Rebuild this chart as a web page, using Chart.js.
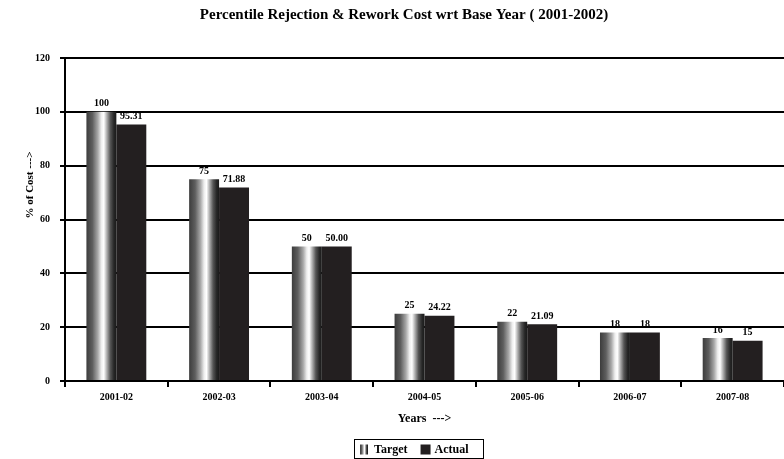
<!DOCTYPE html>
<html>
<head>
<meta charset="utf-8">
<script src="https://cdn.jsdelivr.net/npm/chart.js@4.4.1/dist/chart.umd.min.js"></script>
<style>
  html, body { margin: 0; padding: 0; background: #fff; }
  #wrap { width: 784px; height: 459px; }
</style>
</head>
<body>
<div id="wrap"><canvas id="chart" width="784" height="459"></canvas></div>
<script>
// Financial years on the category axis
const years = ['2001-02', '2002-03', '2003-04', '2004-05', '2005-06', '2006-07', '2007-08'];
// Rejection & rework cost as % of the 2001-02 base
const targetValues = [100, 75, 50, 25, 22, 18, 16];
const actualValues = [95.31, 71.88, 50.00, 24.22, 21.09, 18, 15];
// Decimal places shown in each bar's value label
const targetDecimals = [0, 0, 0, 0, 0, 0, 0];
const actualDecimals = [2, 2, 2, 2, 2, 0, 0];
// Value axis range
const yMin = 0;
const yMax = 120;
const yStep = 20;

const chartTitle = 'Percentile Rejection & Rework Cost wrt Base Year ( 2001-2002)';
const xAxisTitle = 'Years  --->';
const yAxisTitle = '% of Cost --->';

const FONT = "'Liberation Serif', 'Times New Roman', serif";
const CAT_PCT = 0.583;
const ACTUAL_COLOR = '#231f20';

Chart.defaults.font.family = FONT;
Chart.defaults.font.weight = 'bold';
Chart.defaults.color = '#000';

// Shaded "cylinder" fill used for the Target bars
function addCylinderStops(g) {
  g.addColorStop(0.00, '#3c3c3c');
  g.addColorStop(0.20, '#5e5e5e');
  g.addColorStop(0.38, '#a8a8a8');
  g.addColorStop(0.50, '#eeeeee');
  g.addColorStop(0.58, '#ffffff');
  g.addColorStop(0.68, '#b0b0b0');
  g.addColorStop(0.80, '#555555');
  g.addColorStop(0.92, '#262626');
  g.addColorStop(1.00, '#1a1a1a');
  return g;
}

function targetFill(ctx) {
  const chart = ctx.chart;
  const xs = chart.scales.x;
  if (ctx.type !== 'data' || !xs || !xs.width) return '#888';
  const cat = xs.width / years.length;
  const w = cat * CAT_PCT / 2;
  const center = xs.getPixelForValue(ctx.dataIndex);
  const g = chart.ctx.createLinearGradient(center - w, 0, center, 0);
  return addCylinderStops(g);
}

// Value printed above every bar
const valueLabels = {
  id: 'valueLabels',
  afterDatasetsDraw(chart) {
    const c = chart.ctx;
    c.save();
    c.font = 'bold 10px ' + FONT;
    c.fillStyle = '#000';
    c.textAlign = 'center';
    c.textBaseline = 'bottom';
    chart.data.datasets.forEach((ds, di) => {
      chart.getDatasetMeta(di).data.forEach((bar, i) => {
        const dec = ds.decimals ? ds.decimals[i] : 0;
        c.fillText(ds.data[i].toFixed(dec), bar.x, bar.y - 3);
      });
    });
    c.restore();
  }
};

// Rotated value-axis caption
const sideCaption = {
  id: 'sideCaption',
  afterDraw(chart) {
    const c = chart.ctx;
    c.save();
    c.font = 'bold 11px ' + FONT;
    c.fillStyle = '#000';
    c.textAlign = 'center';
    c.textBaseline = 'middle';
    c.translate(30, chart.chartArea.top + 127);
    c.rotate(-Math.PI / 2);
    c.fillText(yAxisTitle, 0, 0);
    c.restore();
  }
};

// Boxed legend under the axis caption
const boxedLegend = {
  id: 'boxedLegend',
  afterDraw(chart) {
    const c = chart.ctx;
    const ds = chart.data.datasets;
    c.save();
    c.font = 'bold 12px ' + FONT;
    const sw = [8, 10];
    const tw = ds.map(d => c.measureText(d.label).width);
    const padL = 6, gapST = 6, gapItems = 13, padR = 14;
    const total = padL + sw[0] + gapST + tw[0] + gapItems + sw[1] + gapST - 2 + tw[1] + padR;
    const cx = (chart.chartArea.left + chart.chartArea.right) / 2 - 6;
    const left = Math.round(cx - total / 2);
    const top = 439, h = 19;
    c.strokeStyle = '#000';
    c.lineWidth = 1;
    c.strokeRect(left + 0.5, top + 0.5, Math.round(total), h);
    const midY = top + h / 2 + 1;
    let x = left + padL;
    // Target swatch
    const g = c.createLinearGradient(x, 0, x + sw[0], 0);
    addCylinderStops(g);
    c.fillStyle = g;
    c.fillRect(x, midY - 5, sw[0], 10);
    x += sw[0] + gapST;
    c.fillStyle = '#000';
    c.textAlign = 'left';
    c.textBaseline = 'middle';
    c.fillText(ds[0].label, x, midY);
    x += tw[0] + gapItems;
    c.fillStyle = ACTUAL_COLOR;
    c.fillRect(x, midY - 5, sw[1], 10);
    x += sw[1] + gapST - 2;
    c.fillStyle = '#000';
    c.fillText(ds[1].label, x, midY);
    c.restore();
  }
};

new Chart(document.getElementById('chart'), {
  type: 'bar',
  data: {
    labels: years,
    datasets: [
      {
        label: 'Target',
        data: targetValues,
        decimals: targetDecimals,
        backgroundColor: targetFill,
        borderWidth: 0,
        categoryPercentage: CAT_PCT,
        barPercentage: 1.0
      },
      {
        label: 'Actual',
        data: actualValues,
        decimals: actualDecimals,
        backgroundColor: ACTUAL_COLOR,
        borderWidth: 0,
        categoryPercentage: CAT_PCT,
        barPercentage: 1.0
      }
    ]
  },
  options: {
    responsive: false,
    animation: false,
    layout: { padding: { left: 24, right: 0, top: 0, bottom: 33 } },
    plugins: {
      legend: { display: false },
      tooltip: { enabled: false },
      title: {
        display: true,
        text: chartTitle,
        color: '#000',
        font: { size: 15, weight: 'bold', family: FONT },
        padding: { top: 6, bottom: 34 }
      }
    },
    scales: {
      x: {
        ticks: { color: '#000', font: { size: 10, weight: 'bold' }, padding: 4, maxRotation: 0 },
        grid: { display: true, drawOnChartArea: false, drawTicks: true, tickLength: 6, color: '#000', lineWidth: 2 },
        border: { display: true, color: '#000', width: 2 },
        title: { display: true, text: xAxisTitle, color: '#000', font: { size: 12, weight: 'bold' }, padding: { top: 0, bottom: 0 } },
        afterFit(s) { s.height = 45; }
      },
      y: {
        min: yMin,
        max: yMax,
        ticks: { stepSize: yStep, color: '#000', font: { size: 10, weight: 'bold' }, padding: 10 },
        grid: { color: '#000', lineWidth: 2, tickLength: 5, drawTicks: true },
        border: { display: true, color: '#000', width: 2 },
        afterFit(s) { s.width = 41; }
      }
    }
  },
  plugins: [valueLabels, sideCaption, boxedLegend]
});
</script>
</body>
</html>
